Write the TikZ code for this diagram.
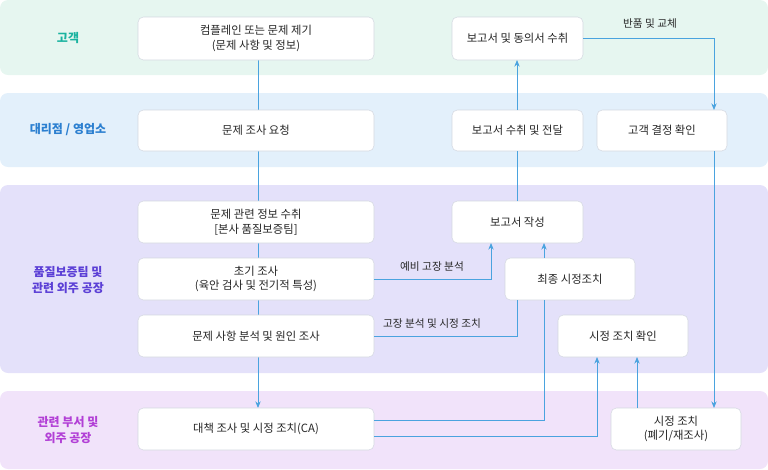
\documentclass[tikz,border=0pt]{standalone}
\usepackage{fontspec}
\setmainfont{Noto Sans CJK KR}
\usetikzlibrary{arrows.meta}
\definecolor{ln}{HTML}{4AA3DF}
\definecolor{bd}{HTML}{D4D8E0}
\definecolor{b1}{HTML}{E6F6F0}
\definecolor{b2}{HTML}{E3F0FB}
\definecolor{b3}{HTML}{E4E1FA}
\definecolor{b4}{HTML}{F1E3FA}
\definecolor{t1}{HTML}{1AB3A0}
\definecolor{t2}{HTML}{2B7FD0}
\definecolor{t3}{HTML}{5B3FD6}
\definecolor{t4}{HTML}{B23FD6}
\begin{document}
\begin{tikzpicture}[x=0.75pt,y=-0.75pt,
 band/.style={rounded corners=6pt,draw=none},
 bx/.style={draw=bd,fill=white,rounded corners=4pt,align=center,font=\fontsize{8.5}{11}\selectfont,text=black!85,inner sep=0pt},
 lab/.style={align=center,font=\bfseries\fontsize{9}{12}\selectfont},
 cn/.style={draw=ln,line width=0.6pt},
 ar/.style={cn,-{Stealth[length=5pt,width=4pt]}},
 el/.style={font=\fontsize{8}{10}\selectfont,text=black!85}]
\useasboundingbox (0,0) rectangle (768,469);
\fill[band,fill=b1] (0,0) rectangle (768,75);
\fill[band,fill=b2] (0,93) rectangle (768,167);
\fill[band,fill=b3] (0,185) rectangle (768,373);
\fill[band,fill=b4] (0,391) rectangle (768,469);
\node[lab,text=t1] (l1) at (68,38) {고객};
\node[lab,text=t2] (l2) at (68,130) {대리점 / 영업소};
\node[lab,text=t3] (l3) at (68,280) {품질보증팀 및\\관련 외주 공장};
\node[lab,text=t4] (l4) at (68,430) {관련 부서 및\\외주 공장};
\coordinate (vt) at (258,60);
\coordinate (vb) at (258,408);
\draw[ar] (vt) -- (vb);
\newcommand{\bxn}[6]{\node[bx,minimum width={(#4-#2)*0.75pt},minimum height={(#5-#3)*0.75pt}] (#1) at ({(#2+#4)/2},{(#3+#5)/2}) {#6};}
\bxn{A}{138}{17}{374}{60}{컴플레인 또는 문제 제기\\(문제 사항 및 정보)}
\bxn{B}{138}{110}{374}{151}{문제 조사 요청}
\bxn{C}{138}{201}{374}{243}{문제 관련 정보 수취\\{[}본사 품질보증팀{]}}
\bxn{D}{138}{258}{374}{300}{초기 조사\\(육안 검사 및 전기적 특성)}
\bxn{E}{138}{315}{374}{357}{문제 사항 분석 및 원인 조사}
\bxn{F}{138}{408}{374}{450}{대책 조사 및 시정 조치(CA)}
\bxn{G}{452}{17}{583}{60}{보고서 및 동의서 수취}
\bxn{H}{452}{110}{583}{151}{보고서 수취 및 전달}
\bxn{I}{597}{110}{727}{151}{고객 결정 확인}
\bxn{J}{452}{201}{583}{243}{보고서 작성}
\bxn{K}{505}{258}{635}{300}{최종 시정조치}
\bxn{L}{558}{315}{688}{357}{시정 조치 확인}
\bxn{M}{611}{408}{741}{450}{시정 조치\\(폐기/재조사)}
\draw[ar] (D.east) -- (491,279) -- (491,243);
\node[el] (e1) at (432,267) {예비 고장 분석};
\draw[cn] (E.east) -- (517,336) -- (517,300);
\node[el] (e2) at (432,324) {고장 분석 및 시정 조치};
\draw[ar] (544,258) -- (544,243);
\draw[cn] (374,420) -- (544,420) -- (544,300);
\draw[ar] (374,436) -- (597,436) -- (597,357);
\draw[ar] (637,408) -- (637,357);
\draw[cn] (517,201) -- (517,151);
\draw[ar] (517,110) -- (517,60);
\draw[ar] (G.east) -- (714,38.5) -- (714,110);
\node[el] (e3) at (650,23) {반품 및 교체};
\draw[ar] (714,151) -- (714,408);
\end{tikzpicture}
\end{document}
